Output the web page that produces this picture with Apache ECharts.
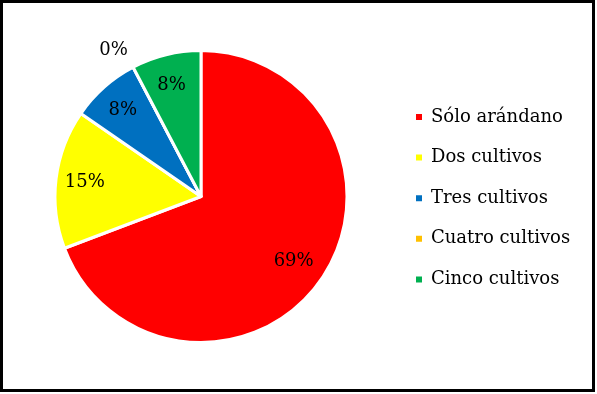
<!DOCTYPE html>
<html><head><meta charset="utf-8">
<script src="https://cdn.jsdelivr.net/npm/echarts@6/dist/echarts.min.js"></script>
<style>html,body{margin:0;padding:0;background:#fff}#c{width:597px;height:394px}</style>
</head><body><div id="c"></div>
<script>
const categories = ['Sólo arándano', 'Dos cultivos', 'Tres cultivos', 'Cuatro cultivos', 'Cinco cultivos'];
const values = [9, 2, 1, 0, 1];
const colors = ['#FF0000', '#FFFF00', '#0070C0', '#FFC000', '#00B050'];

const total = values.reduce((a, b) => a + b, 0);
const pct = v => Math.round(v / total * 100) + '%';
const font = 'DejaVu Serif';
const fs = 18;
const center = [201, 196.5];

const mainData = categories.map((n, i) => ({ name: n, value: values[i], itemStyle: { color: colors[i] } }));
const labelData = (showZero) => categories.map((n, i) => ({
  name: n, value: values[i],
  label: { show: showZero ? values[i] === 0 : values[i] !== 0, offset: showZero ? [-8, 5] : [-2, 0] }
}));
const labelSeries = (radius, showZero) => ({
  type: 'pie', radius: [0, radius], center: center, startAngle: 90, clockwise: true,
  silent: true, animation: false, legendHoverLink: false,
  itemStyle: { color: 'rgba(0,0,0,0)', borderWidth: 0 },
  label: { position: 'inside', formatter: p => pct(p.value), color: '#000', fontFamily: font, fontSize: fs },
  labelLine: { show: false },
  emphasis: { disabled: true },
  data: labelData(showZero)
});

const chart = echarts.init(document.getElementById('c'));
chart.setOption({
  animation: false,
  graphic: [{ type: 'rect', shape: { x: 1.5, y: 1.5, width: 592, height: 389 }, style: { fill: 'none', stroke: '#000', lineWidth: 3 }, z: 100 }],
  legend: {
    orient: 'vertical', left: 414, top: 108, padding: 0, itemWidth: 8, itemHeight: 8, icon: 'rect', itemGap: 22.6,
    selectedMode: false,
    textStyle: { fontFamily: font, fontSize: fs, color: '#000', padding: [0, 0, 0, 3] },
    data: categories.map((n, i) => ({ name: n, itemStyle: { color: colors[i] } }))
  },
  series: [
    {
      type: 'pie', radius: [0, 146], center: center, startAngle: 90, clockwise: true,
      animation: false, silent: true,
      itemStyle: { borderColor: '#fff', borderWidth: 3 },
      label: { show: false }, labelLine: { show: false },
      emphasis: { disabled: true },
      data: mainData
    },
    labelSeries(224, false),
    labelSeries(336, true)
  ]
});
</script></body></html>
